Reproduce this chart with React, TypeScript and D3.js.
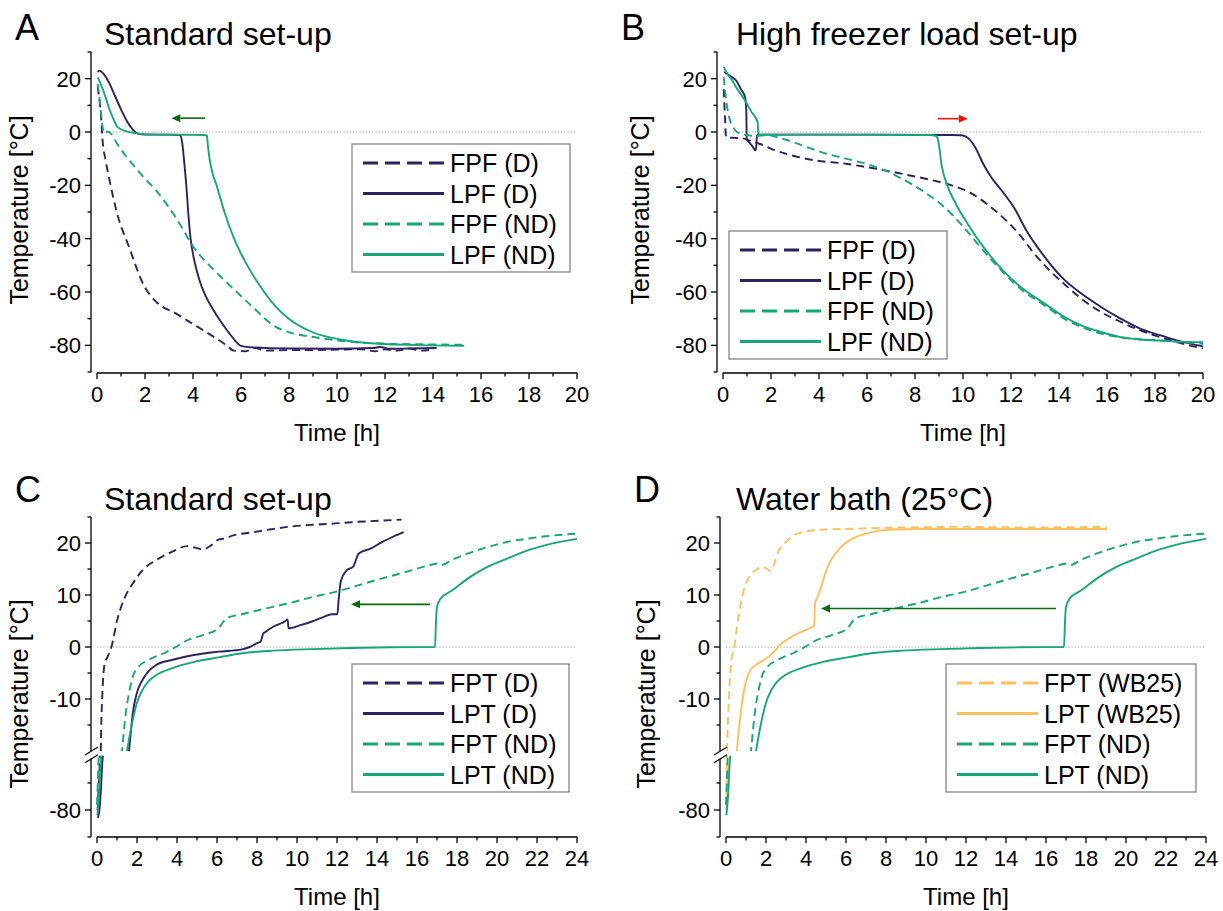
import React from "react";
import * as d3 from "d3";

type Pt = [number, number];

// ---------- Panel A (standard set-up, freezing) ----------
const A_FPF_D: Pt[] = [[0.03,17],[0.1,12],[0.16,7],[0.23,-3],[0.36,-10.6],[0.52,-18],[0.84,-30.6],[1.33,-43],[1.98,-58],[2.47,-63.7],[3.28,-68],[4.09,-72.5],[4.9,-77],[5.4,-80],[5.71,-82],[6.2,-82.2],[6.6,-81],[7.0,-82],[8,-81.8],[9,-81.8],[10,-81.6],[11,-81.5],[11.6,-82.2],[12,-81.5],[12.5,-82],[13,-81.2],[13.5,-82],[14,-81.5]];
const A_LPF_D: Pt[] = [[0.03,22.5],[0.1,23],[0.3,21.5],[0.5,18.5],[0.75,13.5],[1.0,8.5],[1.25,4],[1.5,0.8],[1.7,-0.6],[2.0,-1],[3.0,-1],[3.45,-1.1],[3.55,-4],[3.62,-10],[3.72,-20],[3.8,-30],[3.9,-40],[4.05,-48],[4.25,-55],[4.5,-61],[4.8,-66],[5.15,-71],[5.6,-76.5],[6.0,-80.2],[6.5,-80.8],[8,-81.2],[10,-81.3],[11.5,-81],[11.8,-80.6],[12.2,-81.3],[13,-81.2],[14.15,-81]];
const A_FPF_ND: Pt[] = [[0.03,18],[0.1,13],[0.16,8],[0.23,2],[0.32,-0.6],[0.45,0.2],[0.6,-0.8],[0.84,-4.4],[1.2,-9],[1.66,-14],[2.0,-17.5],[2.47,-22],[3.28,-32],[4.09,-44],[4.9,-52],[5.71,-59],[6.53,-66],[7.34,-72.5],[8.15,-75.5],[8.96,-76.8],[10.58,-78.7],[12.2,-79.4],[13.5,-79.6],[15.3,-79.8]];
const A_LPF_ND: Pt[] = [[0.03,20.5],[0.2,17],[0.36,13],[0.5,9],[0.68,5],[0.84,2],[1.17,0.4],[1.6,-0.4],[2.0,-0.8],[3,-1],[4.5,-1.1],[4.58,-1.5],[4.62,-5],[4.7,-10.6],[4.8,-15],[4.98,-20],[5.31,-30],[5.71,-40],[6.2,-49],[6.85,-58.5],[7.4,-65],[7.99,-70],[8.96,-75],[10.26,-78],[11.56,-79.3],[13.8,-80],[15.3,-80.2]];

// ---------- Panel B (high freezer load set-up) ----------
const B_FPF_D: Pt[] = [[0.03,16],[0.08,6],[0.13,-2],[0.5,-2.2],[0.87,-2.5],[1.2,-3.5],[1.52,-4.4],[2.17,-6.9],[2.83,-8.7],[3.81,-10.6],[5.12,-11.9],[5.94,-13.1],[6.75,-14.4],[7.74,-16.2],[8.72,-18.1],[9.53,-20],[10.35,-23],[11.0,-27],[11.66,-32],[12.31,-38],[12.97,-45.6],[13.62,-52],[14.28,-57.5],[14.93,-62.5],[15.75,-67.5],[16.57,-71.2],[17.38,-74.4],[18.2,-76.9],[19.02,-79.1],[20,-81.2]];
const B_LPF_D: Pt[] = [[0.05,22.5],[0.3,21],[0.54,19.4],[0.75,16],[0.92,13],[0.97,8],[0.99,-3],[1.05,-3.5],[1.2,-5],[1.36,-6.9],[1.39,-5],[1.42,-1],[1.6,-1],[3,-1],[6,-1],[9.5,-1.1],[9.94,-1.2],[10.2,-2.2],[10.5,-5.6],[10.84,-11.9],[11.17,-16.9],[11.66,-22.5],[12.15,-28.7],[12.64,-36.9],[13.3,-45.6],[14.11,-54.4],[14.93,-60.6],[15.75,-65.6],[16.57,-70],[17.38,-73.7],[18.2,-76.2],[19.02,-78.4],[20,-80.4]];
const B_FPF_ND: Pt[] = [[0.03,20.6],[0.13,12],[0.29,4.4],[0.46,1.2],[0.7,-0.6],[1.03,-1.2],[1.4,-1.5],[1.85,-1.2],[2.2,-1.8],[2.67,-3],[3.48,-5.6],[4.3,-8.1],[5.12,-10],[5.94,-11.9],[6.75,-14.4],[7.57,-18.1],[8.39,-22.5],[9.2,-28],[10.02,-35.6],[10.84,-44.4],[11.66,-52.5],[12.48,-59.4],[13.3,-64.4],[14.11,-69.4],[14.93,-73.1],[15.75,-75.6],[16.57,-77],[17.5,-77.8],[18.2,-78.2],[20,-79.4]];
const B_LPF_ND: Pt[] = [[0.03,24.4],[0.2,21.5],[0.38,19.4],[0.6,16],[0.87,12.5],[1.19,7.5],[1.44,3.7],[1.47,0],[1.5,-1],[2,-1],[5,-1],[8.6,-1.1],[8.88,-1.5],[8.96,-3],[9.12,-13],[9.37,-20.6],[9.7,-26.9],[10.19,-34.4],[10.84,-43],[11.66,-51.9],[12.48,-58.7],[13.3,-63.7],[14.11,-68.7],[14.93,-72.5],[15.75,-75],[16.57,-76.9],[17.38,-77.8],[18.2,-78.2],[19,-78.6],[20,-78.8]];

// ---------- Panel C (standard set-up, thawing) ----------
const C_FPT_D: Pt[] = [[0.03,-80],[0.08,-72],[0.14,-61],[0.19,-20],[0.27,-8.9],[0.39,-3.1],[0.53,-1.9],[0.72,0],[1.01,5.2],[1.4,9.6],[1.79,12.2],[2.28,14.8],[2.96,16.7],[3.74,18.3],[4.52,19.4],[4.91,19.1],[5.3,18.8],[5.69,19.5],[6.1,20.7],[6.27,20.8],[6.86,21.5],[7.83,22.1],[8.81,22.7],[9.78,23.2],[10.75,23.5],[11.73,23.7],[12.7,24],[13.68,24.2],[15.23,24.5]];
const C_LPT_D: Pt[] = [[0.05,-83],[0.12,-80],[0.2,-72],[0.28,-61],[1.6,-20],[1.79,-12.7],[1.99,-8.9],[2.28,-6.3],[2.57,-4.7],[2.96,-3.45],[3.74,-2.5],[4.91,-1.5],[6.08,-0.9],[7.25,-0.45],[7.64,0],[8.03,0.8],[8.18,1],[8.3,2.5],[8.42,2.9],[8.81,3.9],[9.39,4.9],[9.53,5.3],[9.58,3.6],[10.17,4.2],[10.75,4.9],[11.34,5.8],[11.73,6.3],[12.02,6.3],[12.08,9],[12.2,12.8],[12.5,14.8],[12.8,15.4],[13.09,18],[13.68,18.9],[14.26,20.2],[14.85,21.3],[15.33,22.1]];
const ND_FPT: Pt[] = [[0.0,-78],[0.04,-70],[0.08,-61],[1.25,-20],[1.44,-12.7],[1.6,-8.9],[1.79,-5.7],[2.08,-3.8],[2.57,-2.5],[3.35,-1.2],[3.94,0],[4.52,1.3],[5.3,2.3],[6.08,3.6],[6.47,5.5],[7.25,6.3],[8.42,7.4],[9.58,8.4],[10.75,9.6],[11.92,10.6],[13.09,11.9],[14.26,13.2],[15.43,14.4],[16.6,15.7],[16.99,16],[17.18,15.7],[17.77,16.8],[18.55,18],[19.52,19.2],[20.5,20.2],[21.47,20.8],[22.44,21.3],[24,21.8]];
const ND_LPT: Pt[] = [[0.02,-82],[0.1,-75],[0.2,-61],[1.5,-20],[1.79,-14],[1.99,-10.8],[2.28,-8.2],[2.57,-6.6],[2.96,-5.4],[3.74,-4.1],[4.91,-2.8],[6.08,-2.0],[7.25,-1.2],[8.81,-0.7],[10.75,-0.4],[12.7,-0.2],[14.65,-0.06],[16.9,0],[16.95,5],[17.0,7.7],[17.18,9.3],[17.77,10.9],[18.55,13.2],[19.52,15.4],[20.5,17],[21.47,18.5],[22.44,19.6],[24,20.8]];

// ---------- Panel D (water bath 25 °C) ----------
const D_FPT_WB25: Pt[] = [[0.02,-80],[0.04,-70],[0.05,-61],[0.06,-20],[0.16,-8.9],[0.25,-3.1],[0.41,0],[0.55,3.9],[0.74,8.4],[0.94,11.6],[1.23,13.8],[1.53,14.9],[1.82,15.4],[2.02,15.1],[2.21,14.6],[2.41,16],[2.61,18.3],[3.0,20.2],[3.39,21.5],[3.98,22.2],[4.96,22.6],[5.94,22.7],[7.9,22.9],[11.81,23.1],[15,23],[19.06,23.1]];
const D_LPT_WB25: Pt[] = [[0.06,-78],[0.12,-70],[0.18,-61],[0.55,-20],[0.74,-12.7],[0.94,-7.6],[1.23,-4.4],[1.63,-3.1],[2.02,-2.2],[2.41,-0.9],[2.7,0.4],[3.0,1.3],[3.59,2.6],[4.17,3.6],[4.41,4.1],[4.45,8.4],[4.57,9.6],[4.76,11.6],[4.96,14.1],[5.15,16],[5.54,18.3],[5.94,19.9],[6.52,21.2],[7.31,22.1],[8.29,22.6],[9.86,22.7],[19.06,22.7]];

// tick values
const X_TICKS_20 = [0, 2, 4, 6, 8, 10, 12, 14, 16, 18, 20];
const X_TICKS_24 = [0, 2, 4, 6, 8, 10, 12, 14, 16, 18, 20, 22, 24];
const Y_MAJOR_AB = [-80, -60, -40, -20, 0, 20];
const Y_MINOR_AB = [-90, -70, -50, -30, -10, 10, 30];
const Y_MAJOR_CD_UP = [-10, 0, 10, 20];
const Y_MINOR_CD_UP = [-15, -5, 5, 15, 25];
const Y_MAJOR_CD_LO = [-80];
const Y_MINOR_CD_LO = [-90, -70];

const PURPLE = "#2f2160";
const GREEN = "#18a679";
const ORANGE = "#ffbf5f";
const FONT = "'Liberation Sans', Arial, Helvetica, sans-serif";

type Seg = { domain: [number, number]; range: [number, number]; major: number[]; minor: number[] };
type Series = { data: Pt[]; color: string; dashed: boolean; label: string };
type Cfg = {
  id: string;
  letter: string; letterX: number; letterY: number;
  title: string; titleX: number; titleY: number;
  yAxisX: number; x0: number; x1: number; xMax: number; xTicks: number[];
  xAxisY: number;
  segs: Seg[];
  series: Series[];
  legend: { x: number; y: number; w: number; h: number };
  arrow: { t1: number; t2: number; y: number; color: string };
  yTitleX: number; yTitleY: number;
};

function Panel({ c }: { c: Cfg }) {
  const xs = d3.scaleLinear().domain([0, c.xMax]).range([c.x0, c.x1]);
  const segs = c.segs.map((s) => ({ ...s, sc: d3.scaleLinear().domain(s.domain).range(s.range) }));
  const zeroSeg = segs.find((s) => s.domain[0] <= 0 && s.domain[1] >= 0)!;
  const arrowSeg = segs.find((s) => s.domain[0] <= c.arrow.y && s.domain[1] >= c.arrow.y)!;
  const minorX = d3.range(1, c.xMax, 2);
  const ax = c.yAxisX;
  const axisColor = "#000";
  const ay = arrowSeg.sc(c.arrow.y);
  const ax1 = xs(c.arrow.t1);
  const ax2 = xs(c.arrow.t2);
  const dir = Math.sign(ax2 - ax1);
  const headLen = 9;
  return (
    <g>
      <defs>
        {segs.map((s, i) => (
          <clipPath id={`clip-${c.id}-${i}`} key={i}>
            <rect x={ax + 1} y={s.range[1] - 3} width={c.x1 - ax + 10} height={s.range[0] - s.range[1] + 3} />
          </clipPath>
        ))}
      </defs>
      <text x={c.letterX} y={c.letterY} fontSize={36} fontFamily={FONT}>{c.letter}</text>
      <text x={c.titleX} y={c.titleY} fontSize={32} fontFamily={FONT}>{c.title}</text>
      {/* zero reference line */}
      <line x1={c.x0} x2={c.x1} y1={zeroSeg.sc(0)} y2={zeroSeg.sc(0)} stroke="#9a9a9a" strokeWidth={1} strokeDasharray="1.2,2" />
      {/* series */}
      {segs.map((s, i) => {
        const line = d3.line<Pt>().x((d) => xs(d[0])).y((d) => s.sc(d[1])).curve(d3.curveMonotoneX);
        return (
          <g clipPath={`url(#clip-${c.id}-${i})`} key={i}>
            {c.series.map((se, j) => (
              <path key={j} d={line(se.data) || ""} fill="none" stroke={se.color} strokeWidth={1.9}
                strokeDasharray={se.dashed ? "8,5" : undefined} strokeLinejoin="round" />
            ))}
          </g>
        );
      })}
      {/* arrow */}
      <line x1={ax1} x2={ax2 - dir * headLen} y1={ay} y2={ay} stroke={c.arrow.color} strokeWidth={1.6} />
      <path d={`M${ax2},${ay} L${ax2 - dir * headLen},${ay - 4} L${ax2 - dir * headLen},${ay + 4} Z`} fill={c.arrow.color} />
      {/* y axis segments */}
      {segs.map((s, i) => (
        <g key={i}>
          <line x1={ax} x2={ax} y1={s.range[1]} y2={s.range[0]} stroke={axisColor} strokeWidth={1.3} />
          {s.major.map((v) => (
            <g key={v}>
              <line x1={ax - 6} x2={ax} y1={s.sc(v)} y2={s.sc(v)} stroke={axisColor} strokeWidth={1.3} />
              <text x={ax - 10} y={s.sc(v)} dy="0.36em" textAnchor="end" fontSize={22} fontFamily={FONT}>{v}</text>
            </g>
          ))}
          {s.minor.map((v) => (
            <line key={v} x1={ax - 3.5} x2={ax} y1={s.sc(v)} y2={s.sc(v)} stroke={axisColor} strokeWidth={1.3} />
          ))}
        </g>
      ))}
      {segs.length > 1 && (
        <g stroke={axisColor} strokeWidth={1.3}>
          <line x1={ax - 6} y1={segs[0].range[0] + 4} x2={ax + 7} y2={segs[0].range[0] - 4} />
          <line x1={ax - 6} y1={segs[1].range[1] + 4} x2={ax + 7} y2={segs[1].range[1] - 4} />
        </g>
      )}
      {/* x axis */}
      <line x1={c.x0} x2={c.x1} y1={c.xAxisY} y2={c.xAxisY} stroke={axisColor} strokeWidth={1.3} />
      {c.xTicks.map((v) => (
        <g key={v}>
          <line x1={xs(v)} x2={xs(v)} y1={c.xAxisY} y2={c.xAxisY + 6} stroke={axisColor} strokeWidth={1.3} />
          <text x={xs(v)} y={c.xAxisY + 29} textAnchor="middle" fontSize={22} fontFamily={FONT}>{v}</text>
        </g>
      ))}
      {minorX.map((v) => (
        <line key={v} x1={xs(v)} x2={xs(v)} y1={c.xAxisY} y2={c.xAxisY + 3.5} stroke={axisColor} strokeWidth={1.3} />
      ))}
      <text x={(c.x0 + c.x1) / 2} y={c.xAxisY + 68} textAnchor="middle" fontSize={24} fontFamily={FONT}>Time [h]</text>
      <text transform={`translate(${c.yTitleX},${c.yTitleY}) rotate(-90)`} textAnchor="middle" fontSize={25} fontFamily={FONT}>Temperature [°C]</text>
      {/* legend */}
      <rect x={c.legend.x} y={c.legend.y} width={c.legend.w} height={c.legend.h} fill="#fff" stroke="#7a7a7a" strokeWidth={1.2} />
      {c.series.map((se, j) => {
        const yy = c.legend.y + 19 + j * 30.5;
        return (
          <g key={j}>
            <line x1={c.legend.x + 11} x2={c.legend.x + 92} y1={yy} y2={yy} stroke={se.color} strokeWidth={3}
              strokeDasharray={se.dashed ? "15,7" : undefined} />
            <text x={c.legend.x + 98} y={yy} dy="0.36em" fontSize={25} fontFamily={FONT}>{se.label}</text>
          </g>
        );
      })}
    </g>
  );
}

const segAB = (): Seg[] => [{ domain: [-90, 30], range: [372, 52], major: Y_MAJOR_AB, minor: Y_MINOR_AB }];
const segCD = (): Seg[] => [
  { domain: [-20, 25], range: [751, 517], major: Y_MAJOR_CD_UP, minor: Y_MINOR_CD_UP },
  { domain: [-90, -61], range: [837, 758.7], major: Y_MAJOR_CD_LO, minor: Y_MINOR_CD_LO },
];

const panels: Cfg[] = [
  {
    id: "A", letter: "A", letterX: 15, letterY: 40, title: "Standard set-up", titleX: 104, titleY: 45,
    yAxisX: 91, x0: 97, x1: 577, xMax: 20, xTicks: X_TICKS_20, xAxisY: 373, segs: segAB(),
    series: [
      { data: A_FPF_D, color: PURPLE, dashed: true, label: "FPF (D)" },
      { data: A_LPF_D, color: PURPLE, dashed: false, label: "LPF (D)" },
      { data: A_FPF_ND, color: GREEN, dashed: true, label: "FPF (ND)" },
      { data: A_LPF_ND, color: GREEN, dashed: false, label: "LPF (ND)" },
    ],
    legend: { x: 352, y: 144, w: 218, h: 128 },
    arrow: { t1: 4.5, t2: 3.1, y: 5.2, color: "#0e6a10" },
    yTitleX: 28, yTitleY: 210,
  },
  {
    id: "B", letter: "B", letterX: 621, letterY: 40, title: "High freezer load set-up", titleX: 736, titleY: 45,
    yAxisX: 717, x0: 723, x1: 1203, xMax: 20, xTicks: X_TICKS_20, xAxisY: 373, segs: segAB(),
    series: [
      { data: B_FPF_D, color: PURPLE, dashed: true, label: "FPF (D)" },
      { data: B_LPF_D, color: PURPLE, dashed: false, label: "LPF (D)" },
      { data: B_FPF_ND, color: GREEN, dashed: true, label: "FPF (ND)" },
      { data: B_LPF_ND, color: GREEN, dashed: false, label: "LPF (ND)" },
    ],
    legend: { x: 729, y: 231, w: 218, h: 128 },
    arrow: { t1: 8.95, t2: 10.2, y: 5, color: "#e8140f" },
    yTitleX: 649, yTitleY: 210,
  },
  {
    id: "C", letter: "C", letterX: 15, letterY: 502, title: "Standard set-up", titleX: 104, titleY: 510,
    yAxisX: 91, x0: 97, x1: 577, xMax: 24, xTicks: X_TICKS_24, xAxisY: 837, segs: segCD(),
    series: [
      { data: C_FPT_D, color: PURPLE, dashed: true, label: "FPT (D)" },
      { data: C_LPT_D, color: PURPLE, dashed: false, label: "LPT (D)" },
      { data: ND_FPT, color: GREEN, dashed: true, label: "FPT (ND)" },
      { data: ND_LPT, color: GREEN, dashed: false, label: "LPT (ND)" },
    ],
    legend: { x: 352, y: 664, w: 217, h: 128 },
    arrow: { t1: 16.65, t2: 12.7, y: 8.2, color: "#0e6a10" },
    yTitleX: 28, yTitleY: 694,
  },
  {
    id: "D", letter: "D", letterX: 634, letterY: 502, title: "Water bath (25°C)", titleX: 736, titleY: 510,
    yAxisX: 720, x0: 726, x1: 1206, xMax: 24, xTicks: X_TICKS_24, xAxisY: 837, segs: segCD(),
    series: [
      { data: D_FPT_WB25, color: ORANGE, dashed: true, label: "FPT (WB25)" },
      { data: D_LPT_WB25, color: ORANGE, dashed: false, label: "LPT (WB25)" },
      { data: ND_FPT, color: GREEN, dashed: true, label: "FPT (ND)" },
      { data: ND_LPT, color: GREEN, dashed: false, label: "LPT (ND)" },
    ],
    legend: { x: 946, y: 664, w: 250, h: 128 },
    arrow: { t1: 16.5, t2: 4.75, y: 7.4, color: "#0e6a10" },
    yTitleX: 655, yTitleY: 694,
  },
];

export default function App() {
  return (
    <svg width={1223} height={911} style={{ position: "absolute", left: 0, top: 0, background: "#fff" }}>
      <rect width={1223} height={911} fill="#fff" />
      {panels.map((p) => (
        <Panel key={p.id} c={p} />
      ))}
    </svg>
  );
}
